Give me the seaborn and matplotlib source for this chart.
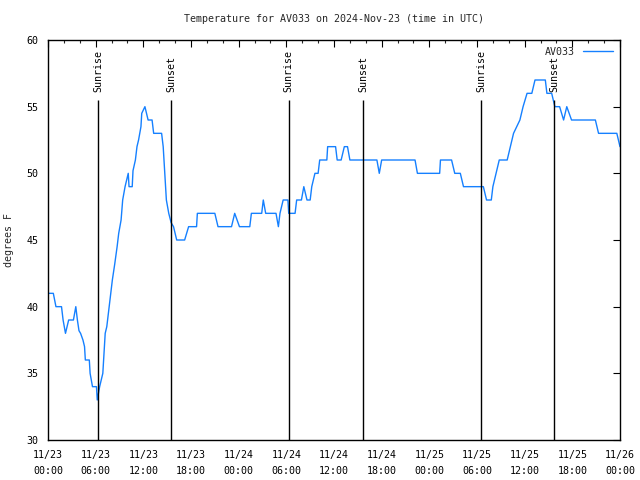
import pandas as pd
import numpy as np
import matplotlib
matplotlib.use('Agg')
import matplotlib.pyplot as plt
import matplotlib.dates as mdates
import seaborn as sns

# ── Data ─────────────────────────────────────────────────────────────────────
hours = [0.0, 0.67, 1.0, 1.7, 1.9, 2.2, 2.6, 3.2, 3.5, 3.7, 3.9, 4.1, 4.4, 4.6,
         4.7, 5.2, 5.3, 5.6, 6.1, 6.2, 6.5, 6.9, 7.1, 7.2, 7.4, 7.6, 7.9, 8.1,
         8.4, 8.7, 8.9, 9.2, 9.4, 9.7, 10.1, 10.2, 10.6, 10.7, 11.0, 11.2, 11.4,
         11.7, 11.8, 12.2, 12.4, 12.6, 13.1, 13.3, 14.3, 14.5, 14.7, 14.9, 15.2,
         15.5, 15.8, 16.2, 17.2, 17.7, 18.7, 18.8, 21.0, 21.4, 23.1, 23.5, 24.1,
         25.4, 25.6, 26.9, 27.1, 27.4, 28.7, 29.0, 29.2, 29.6, 30.2, 30.3, 31.1,
         31.3, 31.9, 32.2, 32.6, 33.0, 33.2, 33.6, 34.0, 34.2, 35.1, 35.2, 36.2,
         36.4, 36.9, 37.3, 37.7, 38.0, 41.4, 41.7, 42.0, 46.2, 46.5, 49.3, 49.4,
         50.8, 51.2, 51.9, 52.3, 54.8, 55.2, 55.8, 56.0, 56.4, 56.8, 57.8, 58.2,
         58.6, 59.0, 59.4, 59.8, 60.3, 60.9, 61.3, 62.6, 62.8, 63.4, 63.6, 63.8,
         64.4, 64.9, 65.3, 65.9, 68.9, 69.3, 71.6, 72.0]
temps = [41, 41, 40, 40, 39, 38, 39, 39, 40, 39, 38.2, 38, 37.5, 37,
         36, 36, 35, 34, 34, 33, 34, 35, 37, 38, 38.5, 39.5, 41, 42,
         43.2, 44.5, 45.5, 46.5, 48, 49, 50, 49, 49, 50.2, 51, 52, 52.5,
         53.5, 54.5, 55, 54.5, 54, 54, 53, 53, 52, 50, 48, 47,
         46.3, 46, 45, 45, 46, 46, 47, 47, 46, 46, 47, 46,
         46, 47, 47, 48, 47, 47, 46, 47, 48, 48, 47, 47,
         48, 48, 49, 48, 48, 49, 50, 50, 51, 51, 52, 52,
         51, 51, 52, 52, 51, 51, 50, 51, 51, 50, 50, 51,
         51, 50, 50, 49, 49, 48, 48, 49, 50, 51, 51, 52,
         53, 53.5, 54, 55, 56, 56, 57, 57, 56, 56, 55.5, 55,
         55, 54, 55, 54, 54, 53, 53, 52]

sunrise_hours = [6.29, 30.3, 54.5]
sunset_hours = [15.48, 39.65, 63.7]

start = pd.Timestamp('2024-11-23 00:00')
times = start + pd.to_timedelta(hours, unit='h')
df = pd.DataFrame({'time': times, 'temp': temps})

# ── Plot ─────────────────────────────────────────────────────────────────────
sns.set_style('white')
plt.rcParams['font.family'] = ['DejaVu Sans Mono']
plt.rcParams['font.size'] = 7

fig = plt.figure(figsize=(6.4, 4.8), dpi=100)
ax = fig.add_axes([48 / 640, 40 / 480, 572 / 640, 400 / 480])

sns.lineplot(data=df, x='time', y='temp', ax=ax, color='#1580ff',
             linewidth=1, label='AV033')

events = [(h, 'Sunrise') for h in sunrise_hours] + [(h, 'Sunset') for h in sunset_hours]
for h, name in events:
    t = start + pd.Timedelta(hours=h)
    ax.vlines(t, 30, 55.5, color='black', linewidth=1)
    ax.text(t, 56.1, name, rotation=90, ha='center', va='bottom',
            fontsize=7.2, color='black')

ax.set_xlim(start, start + pd.Timedelta(hours=72))
ax.set_ylim(30, 60)
ax.set_yticks(range(30, 61, 5))
ax.xaxis.set_major_locator(mdates.HourLocator(byhour=[0, 6, 12, 18]))
ax.xaxis.set_minor_locator(mdates.HourLocator(interval=2))
ax.xaxis.set_major_formatter(mdates.DateFormatter('%m/%d\n%H:%M'))
ax.tick_params(which='major', direction='in', length=5, width=0.8,
               top=True, right=True, labelsize=7.2, pad=7, colors='black')
ax.tick_params(which='minor', direction='in', length=2.5, width=0.8,
               top=True, right=True)
for lbl in ax.get_xticklabels():
    lbl.set_linespacing(1.75)
for s in ax.spines.values():
    s.set_color('black')
    s.set_linewidth(1)

ax.set_xlabel('')
ax.set_ylabel('degrees F', fontsize=7.2)
ax.yaxis.set_label_coords(-34 / 572, 0.5)
ax.set_title('Temperature for AV033 on 2024-Nov-23 (time in UTC)',
             fontsize=7.2, pad=13)

ax.legend(loc='upper right', frameon=False, markerfirst=False,
          handlelength=3.0, fontsize=7.2, borderaxespad=0.3)

fig.savefig('out.png', dpi=100)
